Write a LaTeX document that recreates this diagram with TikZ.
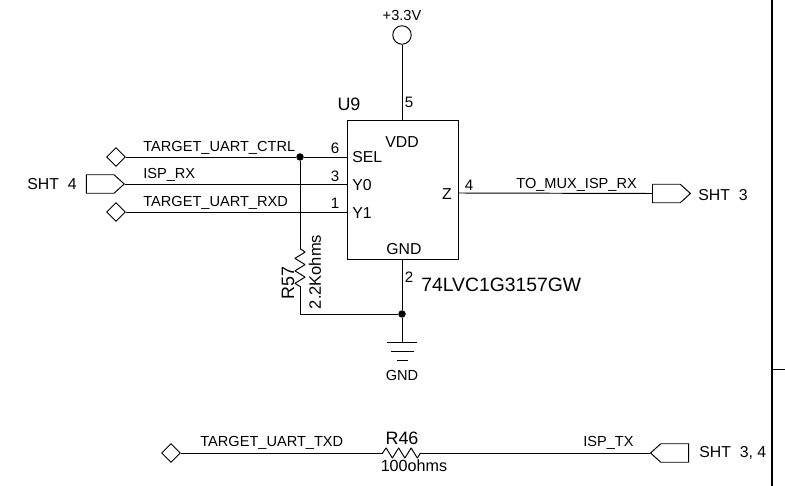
\documentclass[tikz,border=0pt]{standalone}
\usepackage{fontspec}
\setmainfont{Liberation Sans}
\usepackage[american]{circuitikz}
\usetikzlibrary{shapes.geometric,shapes.symbols}

\ctikzset{bipoles/length=0.925cm, bipoles/thickness=1, bipoles/resistor/width=.8, bipoles/resistor/height=.22}

\tikzset{
    wire/.style={draw, line width=0.55pt},
    netlabel/.style={inner sep=0pt, anchor=west, font=\fontsize{8.3}{9}\selectfont},
    pinnum/.style={inner sep=0pt, font=\fontsize{8.6}{9}\selectfont},
    pinname/.style={inner sep=0pt, font=\fontsize{9}{10}\selectfont},
    sheetref/.style={inner sep=0pt, anchor=west, font=\fontsize{9}{10}\selectfont},
    refdes/.style={inner sep=0pt, font=\fontsize{10.2}{11}\selectfont},
    portdiamond/.style={draw, line width=0.55pt, shape=diamond, inner sep=0pt, minimum width=0.38cm, minimum height=0.38cm},
    portin/.style={draw, line width=0.55pt, shape=signal, signal to=east, signal pointer angle=84, inner sep=0pt, minimum width=0.76cm, minimum height=0.37cm},
    portout/.style={draw, line width=0.55pt, shape=signal, signal to=west, signal pointer angle=84, inner sep=0pt, minimum width=0.76cm, minimum height=0.37cm},
    joint/.style={circle, fill=black, inner sep=0pt, minimum size=0.15cm},
}

\begin{document}
\begin{tikzpicture}[x=0.02cm, y=-0.02cm]
    \useasboundingbox (0,0) rectangle (785,486);

    % chip
    \node[draw, line width=0.55pt, minimum width=2.22cm, minimum height=2.78cm, inner sep=0pt] (U9) at (402.5,189.5) {};
    \coordinate (sel) at (347,157);
    \coordinate (yzero) at (347,184);
    \coordinate (yone) at (347,212);
    \coordinate (zout) at (458,193);

    % ports
    \node[portdiamond] (ctrl) at (116,157) {};
    \node[portin, anchor=east] (isprx) at (125,184) {};
    \node[portdiamond] (rxd) at (116,212) {};
    \node[portin, anchor=west] (muxrx) at (652,193.5) {};
    \node[portdiamond] (txd) at (171,453) {};
    \node[portout, anchor=east] (isptx) at (689,453) {};
    \node[draw, line width=0.55pt, circle, inner sep=0pt, minimum size=0.37cm] (vcc) at (402,35) {};

    % junctions
    \node[joint] (jtop) at (300,157) {};
    \node[joint] (jgnd) at (402,314) {};
    \coordinate (gndtop) at (402,342);
    \coordinate (rbot) at (300,314);

    % nets
    \draw[wire] (vcc.south) -- (U9.north -| vcc.south);
    \draw[wire] (ctrl.east) -- (jtop) -- (sel);
    \draw[wire] (isprx.east) -- (yzero);
    \draw[wire] (rxd.east) -- (yone);
    \draw[wire] (zout) -- (muxrx.west);
    \draw[wire] (U9.south -| jgnd) -- (jgnd) -- (gndtop);

    % resistors
    \coordinate (rtopa) at (300,249);
    \coordinate (rtopb) at (300,286);
    \draw[wire] (jtop) -- (rtopa);
    \draw[line width=0.55pt] (rtopa) to [R] (rtopb);
    \draw[wire] (rtopb) -- (rbot) -- (jgnd);
    \coordinate (rleft) at (383,453);
    \coordinate (rright) at (420,453);
    \draw[wire] (txd.east) -- (rleft);
    \draw[line width=0.55pt] (rleft) to [R] (rright);
    \draw[wire] (rright) -- (isptx.west);

    % ground
    \draw[wire] (387,342) -- (417,342) (391,351) -- (414,351) (397,360) -- (408,360);

    % pin numbers and names
    \node[pinnum] (p5) at (409,102) {5};
    \node[pinnum] (p6) at (335,148) {6};
    \node[pinnum] (p3) at (335,176) {3};
    \node[pinnum] (p1) at (335,203) {1};
    \node[pinnum] (p4) at (469,185) {4};
    \node[pinnum] (p2) at (409,277) {2};
    \node[pinname] (vdd) at (402,142) {VDD};
    \node[pinname, anchor=west] (nsel) at (352,157) {SEL};
    \node[pinname, anchor=west] (ny0) at (352,185) {Y0};
    \node[pinname, anchor=west] (ny1) at (352,213) {Y1};
    \node[pinname] (nz) at (447,194) {Z};
    \node[pinname] (ngnd) at (404,249) {GND};

    % net labels
    \node[netlabel] (l1) at (143,148) {TARGET\_UART\_CTRL};
    \node[netlabel] (l2) at (143,175) {ISP\_RX};
    \node[netlabel] (l3) at (143,203) {TARGET\_UART\_RXD};
    \node[netlabel] (l4) at (516,185) {TO\_MUX\_ISP\_RX};
    \node[netlabel] (l5) at (200,443) {TARGET\_UART\_TXD};
    \node[netlabel] (l6) at (583,443) {ISP\_TX};
    \node[netlabel, anchor=center] (l7) at (402,15) {+3.3V};
    \node[netlabel, anchor=center] (l8) at (402,375) {GND};

    % sheet refs
    \node[sheetref] (s1) at (27,184) {SHT\ \ 4};
    \node[sheetref] (s2) at (698,195) {SHT\ \ 3};
    \node[sheetref] (s3) at (699,453) {SHT\ \ 3, 4};

    % part values
    \node[refdes] (u) at (349,104) {U9};
    \node[inner sep=0pt, anchor=west, font=\fontsize{11}{12}\selectfont] (part) at (421,285) {74LVC1G3157GW};
    \node[refdes, rotate=90] (r57) at (288,283) {R57};
    \node[pinname, font=\fontsize{9.4}{10}\selectfont, rotate=90] (r57v) at (315,272) {2.2Kohms};
    \node[refdes] (r46) at (402,438) {R46};
    \node[pinname, font=\fontsize{9.2}{10}\selectfont] (r46v) at (414,466) {100ohms};

    % frame
    \coordinate (ftop) at (772,0);
    \coordinate (fbot) at (772,486);
    \coordinate (ftick) at (772,369);
    \coordinate (fedge) at (785,369);
    \draw[line width=1.6pt] (ftop) -- (fbot);
    \draw[wire] (ftick) -- (fedge);
\end{tikzpicture}
\end{document}
